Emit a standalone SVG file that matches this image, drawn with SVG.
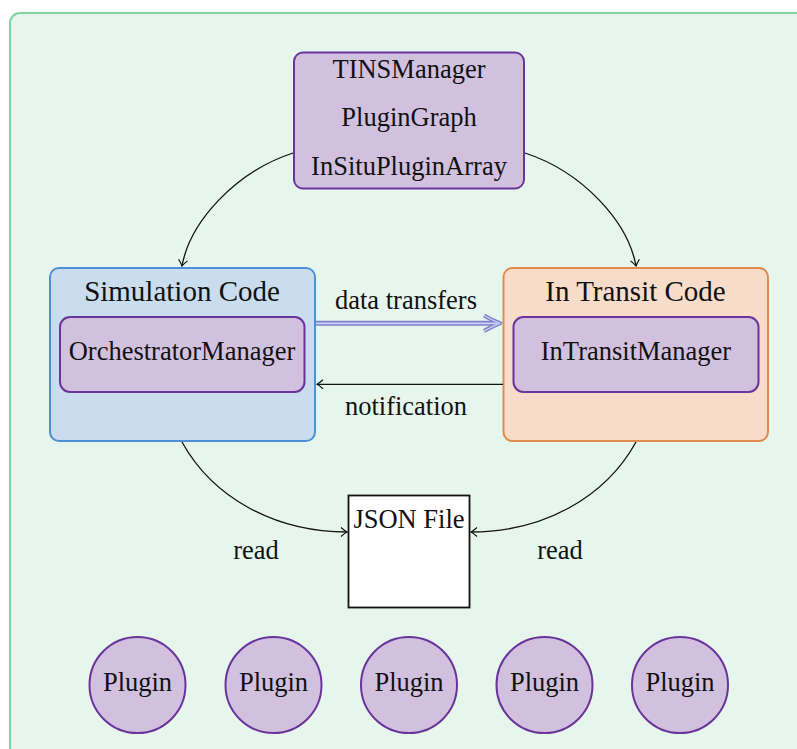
<svg xmlns="http://www.w3.org/2000/svg" width="797" height="749" viewBox="0 0 797 749">
<style>
text{fill:#111;text-anchor:middle;font-size:26.5px}
.title{font-size:29px}
.purple{fill:#d2c1de;stroke:#6a349b;stroke-width:2}
.conn{fill:none;stroke:#111;stroke-width:1.3}
</style>
<defs>
<marker id="to" viewBox="-8 -6 10 12" refX="0" refY="0" markerWidth="10" markerHeight="12" markerUnits="userSpaceOnUse" orient="auto">
<path d="M-6,-4.5 Q-2,-1 0,0 Q-2,1 -6,4.5" fill="none" stroke="#111" stroke-width="1.2"/>
</marker>
</defs>
<rect x="10" y="13" width="800" height="760" rx="10" fill="#e6f6ed" stroke="#7fd4a2" stroke-width="2"/>
<g id="manager">
<rect class="purple" x="294" y="52.5" width="230" height="136" rx="9"/>
<text x="409" y="78" font-family="Times New Roman">TINSManager</text>
<text x="409" y="126" font-family="Times New Roman">PluginGraph</text>
<text x="409" y="175" font-family="Times New Roman">InSituPluginArray</text>
</g>
<g id="simulation">
<rect x="50" y="268" width="265" height="173" rx="9" fill="#c9ddef" stroke="#4f8fd6" stroke-width="2"/>
<text class="title" x="182" y="301" font-family="Times New Roman">Simulation Code</text>
<rect class="purple" x="60" y="317" width="244.5" height="75" rx="10"/>
<text x="182" y="360" font-family="Times New Roman">OrchestratorManager</text>
</g>
<g id="intransit">
<rect x="503.5" y="268" width="264.5" height="173" rx="9" fill="#f6dcc9" stroke="#e08b4c" stroke-width="2"/>
<text class="title" x="635.5" y="301" font-family="Times New Roman">In Transit Code</text>
<rect class="purple" x="513.5" y="317" width="245" height="75" rx="10"/>
<text x="636" y="360" font-family="Times New Roman">InTransitManager</text>
</g>
<g id="json">
<rect x="348.5" y="495.5" width="121" height="112" fill="#fff" stroke="#111" stroke-width="1.8"/>
<text x="409" y="528" font-family="Times New Roman">JSON File</text>
</g>
<g id="plugins">
<g id="plugin1"><circle class="purple" cx="137.5" cy="685" r="48"/><text x="137.5" y="691" font-family="Times New Roman">Plugin</text></g>
<g id="plugin2"><circle class="purple" cx="273.5" cy="685" r="48"/><text x="273.5" y="691" font-family="Times New Roman">Plugin</text></g>
<g id="plugin3"><circle class="purple" cx="409" cy="685" r="48"/><text x="409" y="691" font-family="Times New Roman">Plugin</text></g>
<g id="plugin4"><circle class="purple" cx="544.5" cy="685" r="48"/><text x="544.5" y="691" font-family="Times New Roman">Plugin</text></g>
<g id="plugin5"><circle class="purple" cx="680" cy="685" r="48"/><text x="680" y="691" font-family="Times New Roman">Plugin</text></g>
</g>
<g id="connectors">
<path class="conn" d="M293,153 C235,172 190,222 182,266" marker-end="url(#to)"/>
<path class="conn" d="M525,153 C583,172 628,222 636,266" marker-end="url(#to)"/>
<path class="conn" d="M182,442 C213,498 275,532 347,532" marker-end="url(#to)"/>
<path class="conn" d="M636,442 C605,498 543,532 471,532" marker-end="url(#to)"/>
<path class="conn" d="M503,384.3 L317,384.3" marker-end="url(#to)"/>
<g id="datatransfer">
<path d="M316,323.3 L498,323.3" fill="none" stroke="#7b80cf" stroke-width="5"/>
<path d="M484,315.5 Q494,321 500,323.3 Q494,325.6 484,331" fill="none" stroke="#7b80cf" stroke-width="4.2" stroke-linejoin="round"/>
<path d="M316,323.3 L497,323.3" fill="none" stroke="#cfd1f2" stroke-width="1.8"/>
<path d="M484,315.5 Q494,321 500,323.3 Q494,325.6 484,331" fill="none" stroke="#cfd1f2" stroke-width="1.4" stroke-linejoin="round"/>
</g>
<text x="406" y="309" font-family="Times New Roman">data transfers</text>
<text x="406" y="415" font-family="Times New Roman">notification</text>
<text x="256" y="559" font-family="Times New Roman">read</text>
<text x="560" y="559" font-family="Times New Roman">read</text>
</g>
</svg>
